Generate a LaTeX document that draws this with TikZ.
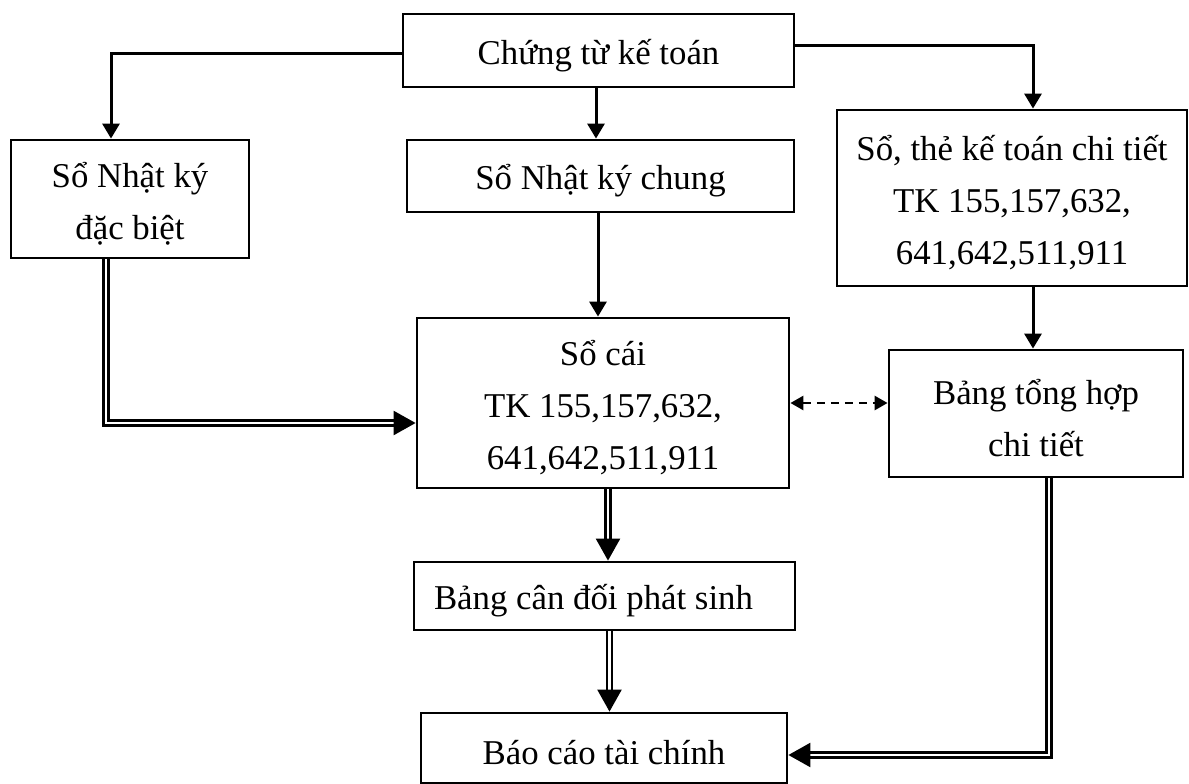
\documentclass[tikz,border=0pt]{standalone}
\usepackage{fontspec}
\setmainfont{Liberation Serif}
\usetikzlibrary{arrows.meta,calc}
\begin{document}
\begin{tikzpicture}[x=1pt,y=-1pt,
  box/.style={draw,line width=2.8pt,inner sep=0pt},
  txt/.style={align=center,inner sep=0pt,yshift=-5pt,
    font=\fontsize{34.8}{52}\selectfont},
  arr/.style={line width=3pt,-{Triangle[width=17pt,length=15pt]}},
  darr/.style={line width=2.4pt,double,double distance=2.4pt,line join=miter,
    -{Triangle[width=24pt,length=22pt]}},
  dasharr/.style={line width=2.6pt,dash pattern=on 8pt off 6pt,
    {Triangle[width=14pt,length=13pt]}-{Triangle[width=14pt,length=13pt]}}]
\useasboundingbox (0,0) rectangle (1189,784);
\node[box,minimum width=391pt,minimum height=73pt] (ct) at (598.5,50.5) {};
\node[txt] (ct-t) at (ct.center) {Chứng từ kế toán};
\node[box,minimum width=238pt,minimum height=118pt] (nkdb) at (130,199) {};
\node[txt] (nkdb-t) at (nkdb.center) {Sổ Nhật ký\\đặc biệt};
\node[box,minimum width=387pt,minimum height=72pt] (nkc) at (600.5,176) {};
\node[txt] (nkc-t) at (nkc.center) {Sổ Nhật ký chung};
\node[box,minimum width=350pt,minimum height=176pt] (stkt) at (1012,198) {};
\node[txt] (stkt-t) at (stkt.center) {Sổ, thẻ kế toán chi tiết\\TK 155,157,632,\\641,642,511,911};
\node[box,minimum width=372pt,minimum height=170pt] (sc) at (603,403) {};
\node[txt] (sc-t) at (sc.center) {Sổ cái\\TK 155,157,632,\\641,642,511,911};
\node[box,minimum width=294pt,minimum height=127pt] (bth) at (1036,413.5) {};
\node[txt] (bth-t) at (bth.center) {Bảng tổng hợp\\chi tiết};
\node[box,minimum width=381pt,minimum height=68pt] (bcd) at (604.5,596) {};
\node[txt] (bcd-t) at ([xshift=-11pt]bcd.center) {Bảng cân đối phát sinh};
\node[box,minimum width=366pt,minimum height=70pt] (bctc) at (604,748) {};
\node[txt] (bctc-t) at (bctc.center) {Báo cáo tài chính};

\draw[arr] ([yshift=-3.5pt]ct.west) -| ([xshift=-19pt]nkdb.north);
\draw[arr] ([xshift=-2.5pt]ct.south) -- ([xshift=-2.5pt]ct.south |- nkc.north);
\draw[arr] ([yshift=4.5pt]ct.east) -| ([xshift=21pt]stkt.north);
\draw[arr] ([xshift=-2.5pt]nkc.south) -- ([xshift=-2.5pt]nkc.south |- sc.north);
\draw[arr] ([xshift=21pt]stkt.south) -- ([xshift=21pt]stkt.south |- bth.north);
\draw[dasharr] (sc.east) -- (sc.east -| bth.west);
\draw[darr] ([xshift=-24pt]nkdb.south) |- ([yshift=-20pt]sc.west);
\draw[darr] ([xshift=5pt]sc.south) -- ([xshift=5pt]sc.south |- bcd.north);
\draw[darr] ([xshift=5pt]bcd.south) -- ([xshift=5pt]bcd.south |- bctc.north);
\draw[darr] ([xshift=13pt]bth.south) |- ([yshift=-7pt]bctc.east);
\end{tikzpicture}
\end{document}
